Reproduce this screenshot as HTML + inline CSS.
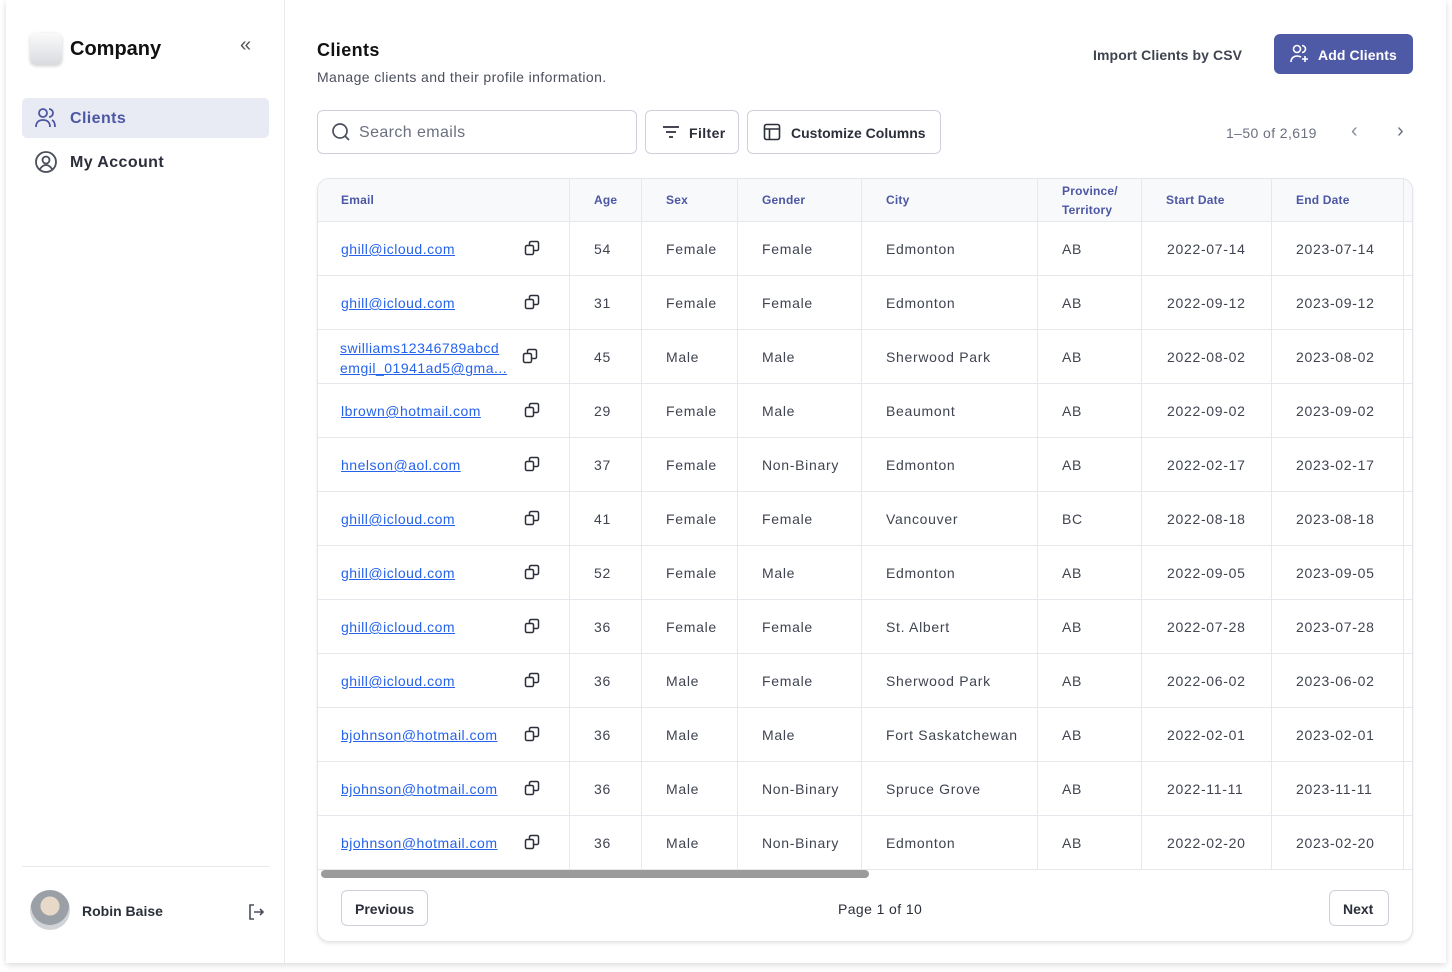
<!DOCTYPE html>
<html><head><meta charset="utf-8"><style>
*{box-sizing:border-box;margin:0;padding:0}
body{width:1452px;height:972px;background:#fff;font-family:"Liberation Sans",sans-serif;position:relative;overflow:hidden;color:#1f2937;letter-spacing:0.4px}
.app{position:absolute;left:6px;top:0;width:1440px;height:963px;background:#fff;box-shadow:0 2px 6px rgba(0,0,0,.15)}
.side{position:absolute;left:6px;top:0;width:279px;height:963px;border-right:1px solid #e8e9ee}
.a{position:absolute}
.t{position:absolute;white-space:nowrap}
.hd{font-size:12px;font-weight:bold;color:#4c57a3;letter-spacing:0.2px}
.cell{font-size:14px;color:#3f4450;letter-spacing:0.7px}
.em{font-size:14px;color:#2563eb;text-decoration:underline;letter-spacing:0.5px}
.vl{position:absolute;top:178px;height:691px;width:1px;background:#e6e8ee}
.hl{position:absolute;left:318px;width:1094px;height:1px;background:#e6e8ee}
.btn{position:absolute;border:1px solid #cdd0da;border-radius:6px;background:#fff;font-size:14px;font-weight:bold;color:#2b2f3a}
</style></head><body>
<div class="app"></div>
<div class="side">
 <div class="a" style="left:24px;top:33px;width:32px;height:32px;border-radius:6px;background:linear-gradient(#fafafa,#dadbe0);box-shadow:0 1px 3px rgba(0,0,0,.2)"></div>
 <div class="t" style="left:64px;top:38px;font-size:20px;font-weight:bold;color:#111;letter-spacing:0">Company</div>
 <div class="t" style="left:234px;top:34px;font-size:20px;color:#555;letter-spacing:-3px">«</div>
 <div class="a" style="left:16px;top:98px;width:247px;height:40px;border-radius:5px;background:#e8eaf4"></div>
 <svg class="a" style="left:28px;top:107px" width="24" height="22" viewBox="0 0 24 22" fill="none" stroke="#4c57a3" stroke-width="1.8"><circle cx="9" cy="6" r="4"/><path d="M2 20c0-5 3-7 7-7s7 2 7 7"/><path d="M15 2a4 4 0 0 1 0 8M18 13c2 1 3 3 3 7"/></svg>
 <div class="t" style="left:64px;top:110px;font-size:16px;font-weight:bold;color:#4c57a3">Clients</div>
 <svg class="a" style="left:28px;top:150px" width="24" height="24" viewBox="0 0 24 24" fill="none" stroke="#4a4f5c" stroke-width="1.8"><circle cx="12" cy="12" r="10"/><circle cx="12" cy="10" r="3.5"/><path d="M6 19c2-3 4-4 6-4s4 1 6 4"/></svg>
 <div class="t" style="left:64px;top:154px;font-size:16px;font-weight:bold;color:#2b2f3a">My Account</div>
 <div class="a" style="left:16px;top:866px;width:247px;height:1px;background:#e6e8ee"></div>
 <div class="a" style="left:24px;top:890px;width:40px;height:40px;border-radius:50%;background:radial-gradient(circle at 50% 40%,#e8d8c8 0 30%,#9aa0a6 31% 60%,#d0d4d8 61%)"></div>
 <div class="t" style="left:76px;top:903px;font-size:14px;font-weight:bold;color:#2b2f3a;letter-spacing:0">Robin Baise</div>
 <svg class="a" style="left:240px;top:902px" width="20" height="20" viewBox="0 0 20 20" fill="none" stroke="#4a4f5c" stroke-width="1.6"><path d="M8 3H4v14h4M8 10h9M14 7l3 3-3 3"/></svg>
</div>
<div class="t" style="left:317px;top:40px;font-size:18px;font-weight:bold;color:#111">Clients</div>
<div class="t" style="left:317px;top:69px;font-size:14px;color:#4a4f5c">Manage clients and their profile information.</div>
<div class="t" style="left:1093px;top:47px;font-size:14px;font-weight:bold;color:#3f4450;letter-spacing:0.1px">Import Clients by CSV</div>
<div class="a" style="left:1274px;top:34px;width:139px;height:40px;border-radius:6px;background:#4f5aa6"></div>
<svg class="a" style="left:1289px;top:44px" width="22" height="20" viewBox="0 0 22 20" fill="none" stroke="#fff" stroke-width="1.6"><circle cx="8" cy="5" r="3.5"/><path d="M2 18c0-4 3-6 6-6 2 0 3 .5 4 1M16 12v6M13 15h6M13 1.5a3.5 3.5 0 0 1 0 7"/></svg>
<div class="t" style="left:1318px;top:47px;font-size:14px;font-weight:bold;color:#fff;letter-spacing:0.1px">Add Clients</div>
<div class="a" style="left:317px;top:110px;width:320px;height:44px;border:1px solid #cdd0da;border-radius:6px"></div>
<svg class="a" style="left:331px;top:122px" width="20" height="20" viewBox="0 0 20 20" fill="none" stroke="#4a4f5c" stroke-width="1.7"><circle cx="9" cy="9" r="7"/><path d="M14 14l4 4"/></svg>
<div class="t" style="left:359px;top:124px;font-size:16px;color:#6b7080">Search emails</div>
<div class="btn" style="left:645px;top:110px;width:94px;height:44px"></div>
<svg class="a" style="left:662px;top:124px" width="18" height="16" viewBox="0 0 18 16" stroke="#2b2f3a" stroke-width="1.7"><path d="M1 3h16M4 8h10M7 13h4"/></svg>
<div class="t" style="left:689px;top:125px;font-size:14px;font-weight:600;color:#2b2f3a">Filter</div>
<div class="btn" style="left:747px;top:110px;width:194px;height:44px"></div>
<svg class="a" style="left:763px;top:123px" width="18" height="18" viewBox="0 0 18 18" fill="none" stroke="#2b2f3a" stroke-width="1.6"><rect x="1.5" y="1.5" width="15" height="15" rx="2"/><path d="M1.5 6h15M6.5 6v10.5"/></svg>
<div class="t" style="left:791px;top:125px;font-size:14px;font-weight:bold;color:#2b2f3a;letter-spacing:0">Customize Columns</div>
<div class="t" style="left:1226px;top:125px;font-size:14px;color:#6b7080">1–50 of 2,619</div>
<div class="t" style="left:1351px;top:120px;font-size:20px;color:#8a8f9c">‹</div>
<div class="t" style="left:1397px;top:120px;font-size:20px;color:#6b7080">›</div>
<div class="a" style="left:317px;top:178px;width:1096px;height:764px;border:1px solid #e3e5eb;border-radius:12px;box-shadow:0 2px 3px rgba(0,0,0,.08)"></div>
<div class="a" style="left:318px;top:179px;width:1094px;height:42px;background:#f8f9fb;border-radius:11px 11px 0 0"></div>
<div id="grid"></div>
<div class="a" style="left:321px;top:870px;width:548px;height:8px;border-radius:4px;background:#9b9b9b"></div>
<div class="btn" style="left:341px;top:890px;width:87px;height:36px;font-size:14px;padding:10px 0 0 13px;letter-spacing:0">Previous</div>
<div class="t" style="left:838px;top:901px;font-size:14px;color:#2b2f3a">Page 1 of 10</div>
<div class="btn" style="left:1329px;top:890px;width:60px;height:36px;font-size:14px;padding:10px 0 0 13px;letter-spacing:0">Next</div>
<script>
const cols=[569,641,737,861,1037,1141,1271,1403];
let h='';cols.forEach(x=>h+=`<div class="vl" style="left:${x}px"></div>`);
const hx=[341,594,666,762,886,1062,1166,1296],hn=['Email','Age','Sex','Gender','City','','Start Date','End Date'];
hn.forEach((n,i)=>{if(n)h+=`<div class="t hd" style="left:${hx[i]}px;top:193px">${n}</div>`});
h+=`<div class="t hd" style="left:1062px;top:182px;line-height:19px">Province/<br>Territory</div>`;
const R=[['ghill@icloud.com',54,'Female','Female','Edmonton','AB','2022-07-14','2023-07-14'],
['ghill@icloud.com',31,'Female','Female','Edmonton','AB','2022-09-12','2023-09-12'],
['',45,'Male','Male','Sherwood Park','AB','2022-08-02','2023-08-02'],
['lbrown@hotmail.com',29,'Female','Male','Beaumont','AB','2022-09-02','2023-09-02'],
['hnelson@aol.com',37,'Female','Non-Binary','Edmonton','AB','2022-02-17','2023-02-17'],
['ghill@icloud.com',41,'Female','Female','Vancouver','BC','2022-08-18','2023-08-18'],
['ghill@icloud.com',52,'Female','Male','Edmonton','AB','2022-09-05','2023-09-05'],
['ghill@icloud.com',36,'Female','Female','St. Albert','AB','2022-07-28','2023-07-28'],
['ghill@icloud.com',36,'Male','Female','Sherwood Park','AB','2022-06-02','2023-06-02'],
['bjohnson@hotmail.com',36,'Male','Male','Fort Saskatchewan','AB','2022-02-01','2023-02-01'],
['bjohnson@hotmail.com',36,'Male','Non-Binary','Spruce Grove','AB','2022-11-11','2023-11-11'],
['bjohnson@hotmail.com',36,'Male','Non-Binary','Edmonton','AB','2022-02-20','2023-02-20']];
const dx=[341,594,666,762,886,1062,1167,1296];
const cp=`<svg width="16" height="16" viewBox="0 0 16 16" fill="none" stroke="#2b2f3a" stroke-width="1.5"><rect x="1.5" y="5.5" width="8" height="9" rx="1.5"/><path d="M5.5 5V3a1.5 1.5 0 0 1 1.5-1.5h6A1.5 1.5 0 0 1 14.5 3v6A1.5 1.5 0 0 1 13 10.5h-3"/></svg>`;
R.forEach((r,i)=>{const y=221+i*54;h+=`<div class="hl" style="top:${y}px"></div>`;
 if(r[0])h+=`<div class="t em" style="left:341px;top:${y+20}px">${r[0]}</div>`;
 else h+=`<div class="t em" style="left:340px;top:${y+9}px;line-height:20px">swilliams12346789abcd<br>emgil_01941ad5@gma...</div>`;
 h+=`<div class="a" style="left:${r[0]?524:522}px;top:${y+19}px">${cp}</div>`;
 for(let j=1;j<8;j++)h+=`<div class="t cell" style="left:${dx[j]}px;top:${y+20}px">${r[j]}</div>`;});
h+=`<div class="hl" style="top:869px"></div>`;
document.getElementById('grid').innerHTML=h;
</script>
</body></html>
